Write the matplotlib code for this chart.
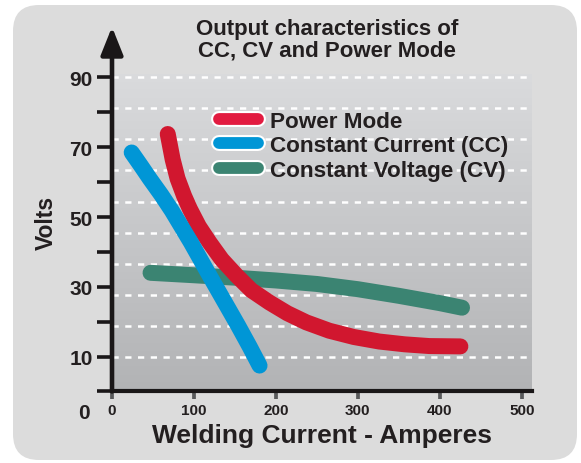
import numpy as np
import matplotlib
matplotlib.use("Agg")
import matplotlib.pyplot as plt
import matplotlib.patheffects as pe
from matplotlib.colors import LinearSegmentedColormap
from matplotlib.lines import Line2D
from matplotlib.patches import FancyBboxPatch
from matplotlib.transforms import IdentityTransform

plt.rcParams['font.family'] = ['Liberation Sans', 'DejaVu Sans']
plt.rcParams['font.weight'] = 'bold'

# values (Amperes, Volts)
power_amps = [68, 74, 80, 88, 95, 106, 119, 134, 152, 170, 192, 214, 237, 265, 295, 326, 357, 387, 425]
power_volts = [73.8, 66.5, 61.0, 56.0, 52.3, 47.3, 42.7, 37.8, 33.2, 29.0, 25.5, 22.4, 19.8, 17.4, 15.6, 14.3, 13.5, 13.0, 12.9]

cc_amps = [24, 35, 46, 60, 73, 96, 119, 137, 154, 168, 180]
cc_volts = [68.5, 64.8, 61.0, 56.4, 51.8, 42.8, 33.2, 25.8, 18.8, 12.8, 7.4]

cv_amps = [47, 100, 150, 200, 250, 300, 350, 400, 427]
cv_volts = [34.0, 33.3, 32.6, 31.8, 30.8, 29.3, 27.4, 25.3, 24.0]

series_names = ['Power Mode', 'Constant Current (CC)', 'Constant Voltage (CV)']
curve_colors = ['#d1172f', '#0096d6', '#3b8472']
swatch_colors = ['#e21b40', '#0096d6', '#3b8472']

x_ticks = [0, 100, 200, 300, 400, 500]
y_ticks = [0, 10, 20, 30, 40, 50, 60, 70, 80, 90]
y_labels = ['', '10', '', '30', '', '50', '', '70', '', '90']
grid_levels = np.linspace(10, 90, 10)

fig = plt.figure(figsize=(5.81, 4.64), dpi=100, facecolor='white')

# rounded light grey panel behind everything
panel = FancyBboxPatch((13, 3), 564, 455, boxstyle='round,pad=0,rounding_size=26',
                       transform=IdentityTransform(), facecolor='#dcdcdc', edgecolor='none', zorder=-5)
fig.patches.append(panel)

ax = fig.add_axes([112 / 581, 71.6 / 464, 419.7 / 581, 317.4 / 464])
ax.set_facecolor('none')
ax.set_xlim(0, 512)
ax.set_ylim(0, 91)

grad = LinearSegmentedColormap.from_list('bg', ['#b2b3b5', '#dadbdd'])
ax.imshow(np.linspace(0, 1, 256).reshape(-1, 1), cmap=grad, origin='lower', aspect='auto',
          extent=[0, 1, 0, 1], transform=ax.transAxes, zorder=0)

for g in grid_levels:
    ax.axhline(g, color='white', lw=1.8, linestyle=(0, (2.5, 2.6)), zorder=1)

lw = 11.5
ax.plot(cv_amps, cv_volts, color=curve_colors[2], lw=lw, solid_capstyle='round', zorder=3)
ax.plot(power_amps, power_volts, color=curve_colors[0], lw=lw, solid_capstyle='round', zorder=4)
ax.plot(cc_amps, cc_volts, color=curve_colors[1], lw=lw, solid_capstyle='round', zorder=5)

# axes styling
for s in ['top', 'right', 'left']:
    ax.spines[s].set_visible(False)
ax.spines['bottom'].set_linewidth(3)
ax.spines['bottom'].set_color('#1a1718')
ax.spines['bottom'].set_zorder(6)

ax.annotate('', xy=(0, 104.5), xytext=(0, 0), xycoords='data', annotation_clip=False,
            arrowprops=dict(arrowstyle='-|>,head_length=0.4,head_width=0.16', mutation_scale=42,
                            lw=3.3, color='#1a1718', shrinkA=0, shrinkB=0), zorder=7)

ax.set_yticks(y_ticks)
ax.set_yticklabels(y_labels)
ax.tick_params(axis='y', direction='out', length=11, width=2.6, color='#1a1718', pad=3,
               labelsize=15, labelcolor='#231f20')
ax.set_xticks(x_ticks)
ax.tick_params(axis='x', direction='out', length=6, width=2.7, color='#58595b', pad=2,
               labelsize=11, labelcolor='#231f20')
ax.text(-0.052, -0.066, '0', transform=ax.transAxes, ha='right', va='center',
        fontsize=15, color='#231f20')

ax.set_xlabel('Welding Current - Amperes', fontsize=19, fontweight='bold', color='#231f20', labelpad=5)
ax.set_ylabel('Volts', fontsize=16.5, fontweight='bold', color='#231f20')
ax.yaxis.set_label_coords(-0.13, 0.534)

fig.text(327 / 581, 1 - 40 / 464, 'Output characteristics of\nCC, CV and Power Mode',
         ha='center', va='center', fontsize=16, color='#231f20', linespacing=1.05)

handles = [Line2D([], [], color=c, lw=8.5, solid_capstyle='round',
                  path_effects=[pe.Stroke(linewidth=11.5, foreground='white'), pe.Normal()])
           for c in swatch_colors]
ax.legend(handles, series_names, loc='upper left', bbox_to_anchor=(0.256, 0.885), frameon=False,
          prop={'weight': 'bold', 'size': 16.2}, handlelength=1.7, handletextpad=0.55,
          labelspacing=0.16, borderpad=0, borderaxespad=0, labelcolor='#231f20')

fig.savefig('out.png', dpi=100, facecolor='white')
